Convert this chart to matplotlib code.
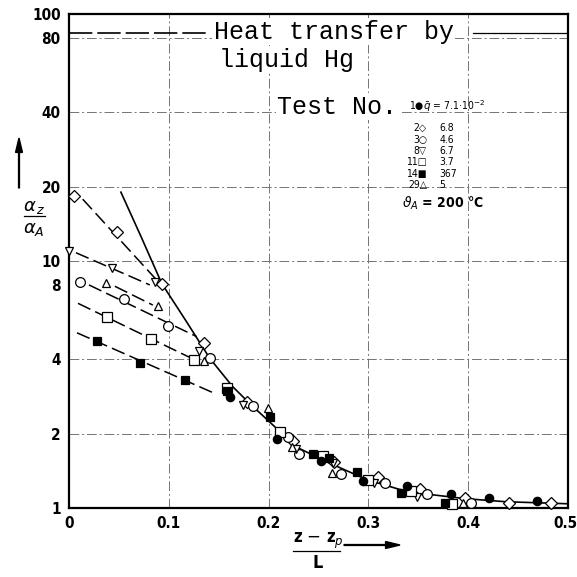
import matplotlib
matplotlib.use("Agg")
import matplotlib.pyplot as plt
from matplotlib.transforms import ScaledTranslation
import numpy as np

# --- data ---
# test 1 (filled circle)
t1_x = [0.161, 0.208, 0.253, 0.295, 0.339, 0.383, 0.421, 0.469]
t1_y = [2.81, 1.90, 1.55, 1.29, 1.23, 1.14, 1.10, 1.07]
# test 2 (open diamond)
t2_x = [0.005, 0.048, 0.093, 0.135, 0.178, 0.224, 0.266, 0.310, 0.352, 0.397, 0.441, 0.483]
t2_y = [18.4, 13.1, 8.09, 4.67, 2.69, 1.87, 1.54, 1.33, 1.19, 1.10, 1.045, 1.05]
# test 3 (open circle)
t3_x = [0.011, 0.055, 0.099, 0.141, 0.184, 0.219, 0.230, 0.273, 0.317, 0.359, 0.403]
t3_y = [8.21, 7.04, 5.47, 4.04, 2.59, 1.93, 1.66, 1.37, 1.26, 1.14, 1.05]
# test 8 (inverted triangle)
t8_x = [0.0, 0.043, 0.086, 0.130, 0.174, 0.227, 0.265, 0.306, 0.349]
t8_y = [11.0, 9.34, 8.2, 4.32, 2.61, 1.74, 1.52, 1.26, 1.11]
# test 11 (open square)
t11_x = [0.038, 0.082, 0.125, 0.158, 0.211, 0.255, 0.300, 0.343, 0.384]
t11_y = [5.92, 4.83, 3.98, 3.05, 2.03, 1.63, 1.30, 1.17, 1.04]
# test 14 (filled square)
t14_x = [0.028, 0.071, 0.116, 0.158, 0.201, 0.244, 0.261, 0.289, 0.333, 0.377]
t14_y = [4.76, 3.87, 3.31, 2.98, 2.34, 1.66, 1.59, 1.40, 1.15, 1.05]
# test 29 (triangle)
t29_x = [0.037, 0.089, 0.135, 0.199, 0.223, 0.264, 0.395]
t29_y = [8.17, 6.57, 3.93, 2.55, 1.77, 1.39, 1.05]

# entrance lines (dashed), start/end points
fit2_x, fit2_y = [0.0137, 0.0878], [17.8, 8.38]
fit8_x, fit8_y = [0.007, 0.081], [10.8, 8.0]
fit3_x, fit3_y = [0.020, 0.128], [8.0, 4.94]
fit29_x, fit29_y = [0.046, 0.084], [7.9, 6.63]
fit11_x, fit11_y = [0.009, 0.121], [6.74, 4.07]
fit14_x, fit14_y = [0.008, 0.146], [5.12, 2.91]

# common curve (solid)
curve_x = [0.052, 0.072, 0.093, 0.117, 0.141, 0.164, 0.181, 0.208, 0.231,
           0.261, 0.299, 0.331, 0.365, 0.398, 0.438, 0.485, 0.5]
curve_y = [19.0, 12.6, 8.1, 5.74, 4.04, 3.10, 2.65, 2.10, 1.74,
           1.52, 1.30, 1.19, 1.13, 1.09, 1.06, 1.045, 1.04]

xticks = [0, 0.1, 0.2, 0.3, 0.4, 0.5]
xlabels = ["0", "0.1", "0.2", "0.3", "0.4", "0.5"]
yticks = [1, 2, 4, 8, 10, 20, 40, 80, 100]
ylabels = ["1", "2", "4", "8", "10", "20", "40", "80", "100"]
grid_x = [0.1, 0.2, 0.3, 0.4]
grid_y = [2, 4, 10, 20, 40, 80]

legend_no = ["2", "3", "8", "11", "14", "29"]
legend_sym = ["◇", "○", "▽", "□", "■", "△"]
legend_q = ["6.8", "4.6", "6.7", "3.7", "367", "5"]

narrow = ["Liberation Sans Narrow", "DejaVu Sans"]
mono = ["Liberation Mono", "DejaVu Sans Mono"]

fig = plt.figure(figsize=(5.77, 5.77), dpi=100)
ax = fig.add_axes([69 / 577, 1 - 508 / 577, 499 / 577, 494 / 577])
ax.set_yscale("log")
ax.set_xlim(0, 0.5)
ax.set_ylim(1, 100)

for gx in grid_x:
    ax.axvline(gx, color="0.45", lw=0.7, ls=(0, (10, 3, 2, 3)), zorder=0)
for gy in grid_y:
    ax.axhline(gy, color="0.45", lw=0.7, ls=(0, (10, 3, 2, 3)), zorder=0)

dash = (0, (9, 3.5))
for fx, fy in [(fit2_x, fit2_y), (fit8_x, fit8_y), (fit3_x, fit3_y),
               (fit29_x, fit29_y), (fit11_x, fit11_y), (fit14_x, fit14_y)]:
    ax.plot(fx, fy, color="black", lw=1.1, ls=dash, zorder=2)

ax.plot(curve_x, curve_y, color="black", lw=1.2, zorder=2)

mk = dict(ls="none", color="black", mec="black", mew=0.9, zorder=3, clip_on=False)
ax.plot(t2_x, t2_y, marker="D", ms=6.5, mfc="white", **mk)
ax.plot(t3_x, t3_y, marker="o", ms=7, mfc="white", **mk)
ax.plot(t8_x, t8_y, marker="v", ms=6, mfc="white", **mk)
ax.plot(t29_x, t29_y, marker="^", ms=6, mfc="white", **mk)
ax.plot(t11_x, t11_y, marker="s", ms=6.5, mfc="white", **mk)
ax.plot(t14_x, t14_y, marker="s", ms=6, mfc="black", **mk)
ax.plot(t1_x, t1_y, marker="o", ms=6, mfc="black", **mk)

for s in ax.spines.values():
    s.set_linewidth(1.6)
ax.set_xticks(xticks)
ax.set_xticklabels(xlabels)
ax.set_yticks(yticks)
ax.set_yticklabels(ylabels)
ax.minorticks_off()
ax.tick_params(length=0, pad=6)
for lab in ax.get_xticklabels() + ax.get_yticklabels():
    lab.set_family(narrow)
    lab.set_fontweight("bold")
    lab.set_fontstretch("condensed")
    lab.set_fontsize(11)
last = ax.get_xticklabels()[-1]
last.set_transform(last.get_transform() + ScaledTranslation(-3 / 100, 0, fig.dpi_scale_trans))

# title block and legend text
tb = dict(facecolor="white", edgecolor="none", pad=1)
ax.text(0.29, 0.964, "Heat transfer by", transform=ax.transAxes, family=mono,
        fontsize=18, va="center", ha="left", bbox=tb, zorder=5)
ax.text(0.30, 0.907, "liquid Hg", transform=ax.transAxes, family=mono,
        fontsize=18, va="center", ha="left", bbox=tb, zorder=5)
ax.text(0.417, 0.812, "Test No.", transform=ax.transAxes, family=mono,
        fontsize=18, va="center", ha="left", bbox=tb, zorder=5)
ax.plot([0, 0.141], [84, 84], color="black", lw=1.2, ls=(0, (14, 3)), zorder=4)
ax.plot([0.405, 0.5], [84, 84], color="black", lw=0.9, zorder=4)

ax.text(0.681, 0.814, "1●" + r"$\bar{q}$ = 7.1·10$^{-2}$", transform=ax.transAxes,
        family=narrow, fontstretch="condensed", fontsize=7.5, va="center", ha="left")
for i in range(len(legend_no)):
    yy = 0.769 - i * 0.0231
    ax.text(0.717, yy, legend_no[i] + legend_sym[i], transform=ax.transAxes,
            family=narrow, fontstretch="condensed", fontsize=7.5, va="center", ha="right")
    ax.text(0.743, yy, legend_q[i], transform=ax.transAxes,
            family=narrow, fontstretch="condensed", fontsize=7.5, va="center", ha="left")
ax.text(0.667, 0.617, r"$\vartheta_A$ = 200 °C", transform=ax.transAxes,
        family=narrow, fontstretch="condensed", fontsize=10, fontweight="bold",
        va="center", ha="left")

# axis labels as fractions with arrows
fig.text(34 / 577, 1 - 207 / 577, r"$\alpha_{\,z}$", fontsize=13, ha="center", va="center")
fig.lines.append(plt.Line2D([24 / 577, 45 / 577], [1 - 216 / 577, 1 - 216 / 577],
                            transform=fig.transFigure, color="black", lw=0.9))
fig.text(34 / 577, 1 - 229 / 577, r"$\alpha_A$", fontsize=13, ha="center", va="center")
fig.patches.append(matplotlib.patches.FancyArrow(
    19 / 577, 1 - 188 / 577, 0, 50 / 577, width=0.0015, head_width=0.012,
    head_length=0.025, length_includes_head=True, color="black",
    transform=fig.transFigure))

fig.text(318 / 577, 1 - 541 / 577, r"z $-$ z$_p$", family=narrow, fontsize=12,
         fontweight="bold", fontstretch="condensed", ha="center", va="center")
fig.lines.append(plt.Line2D([293 / 577, 340 / 577], [1 - 551 / 577, 1 - 551 / 577],
                            transform=fig.transFigure, color="black", lw=0.9))
fig.text(318 / 577, 1 - 563 / 577, "L", family=narrow, fontsize=13,
         fontweight="bold", fontstretch="condensed", ha="center", va="center")
fig.patches.append(matplotlib.patches.FancyArrow(
    344 / 577, 1 - 545 / 577, 56 / 577, 0, width=0.0015, head_width=0.012,
    head_length=0.025, length_includes_head=True, color="black",
    transform=fig.transFigure))

fig.savefig("out.png", dpi=100, facecolor="white")
